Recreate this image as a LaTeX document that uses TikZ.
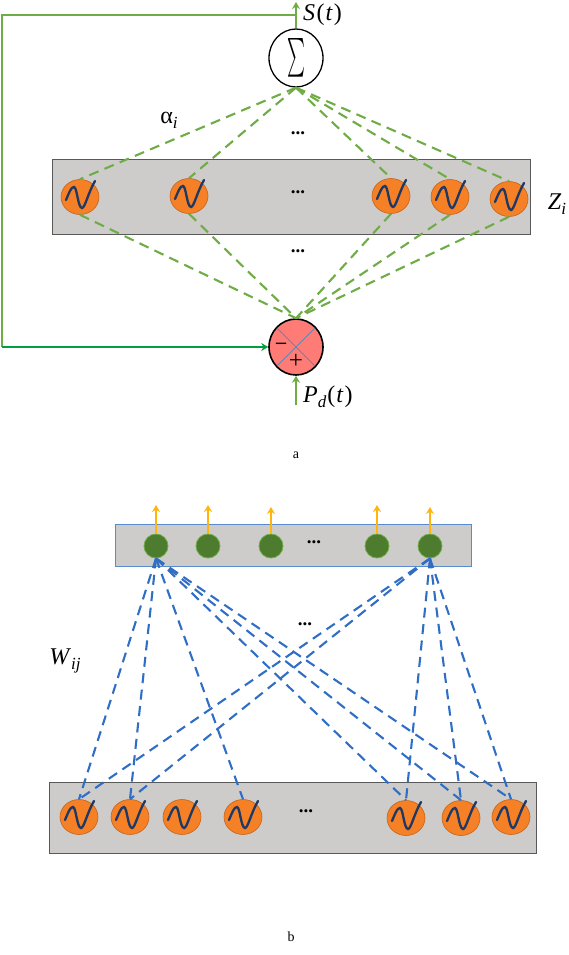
\documentclass[tikz,border=0pt]{standalone}
\usepackage{fontspec}
\usepackage{graphicx}
\setmainfont{Liberation Serif}
\usetikzlibrary{shapes.geometric,arrows.meta}
\definecolor{panel}{HTML}{CDCCCB}
\definecolor{orangeN}{HTML}{F58025}
\definecolor{orangeE}{HTML}{C4651C}
\definecolor{waveC}{HTML}{1F3864}
\definecolor{greenD}{HTML}{6FAC46}
\definecolor{greenF}{HTML}{00A040}
\definecolor{blueD}{HTML}{2F6EC4}
\definecolor{greenN}{HTML}{4E7C2F}
\definecolor{amber}{HTML}{FFB50F}
\definecolor{redN}{HTML}{FF7B75}
\tikzset{
  panelbox/.style={draw=#1,fill=panel,line width=1pt},
  osc/.style={ellipse,draw=orangeE,fill=orangeN,line width=.6pt,inner sep=0pt,minimum width=38pt,minimum height=35pt},
  outn/.style={circle,draw=greenD,fill=greenN,line width=.8pt,inner sep=0pt,minimum size=24pt},
  sumn/.style={ellipse,draw=black,fill=white,line width=1.3pt,inner sep=0pt,minimum width=54pt,minimum height=58pt},
  errn/.style={ellipse,draw=black,fill=redN,line width=1.6pt,inner sep=0pt,minimum width=54pt,minimum height=56pt},
  gdash/.style={draw=greenD,line width=2.1pt,dash pattern=on 10pt off 6.5pt},
  bdash/.style={draw=blueD,line width=2.1pt,dash pattern=on 10pt off 6.5pt},
  gsolid/.style={draw=greenD,line width=2.1pt,-{Stealth[length=7pt,width=8pt]}},
  fback/.style={draw=greenF,line width=1.9pt,-{Stealth[length=7pt,width=8pt]}},
  amb/.style={draw=amber,line width=2.1pt,-{Stealth[length=7pt,width=8pt]}},
  lab/.style={inner sep=0pt,font=\fontsize{24}{26}\selectfont},
  capt/.style={inner sep=0pt,font=\fontsize{14}{16}\selectfont},
  dotsl/.style={inner sep=0pt,font=\bfseries\fontsize{19}{20}\selectfont}
}
\newcommand{\sinewave}[1]{\draw[waveC,line width=2.3pt,line cap=round,shift={(#1.center)}]
  (-14,3) .. controls (-11,-4) and (-9,-10) .. (-6,-10)
  .. controls (-3,-10) and (-2,11) .. (2,11)
  .. controls (5,11) and (8,-4) .. (15,-16);}
\newcommand{\subs}[1]{\raisebox{-5pt}{\fontsize{17}{17}\selectfont\textit{#1}}}
\begin{document}
\begin{tikzpicture}[x=1pt,y=-1pt]
\useasboundingbox (0,0) rectangle (569,955);
% panels
\node[panelbox=black!65,minimum width=478pt,minimum height=75pt,inner sep=0pt] (top) at (291.5,196.5) {};
\node[panelbox=blueD!80,minimum width=356pt,minimum height=42pt,inner sep=0pt] (mid) at (293,545) {};
\node[panelbox=black!65,minimum width=487pt,minimum height=71pt,inner sep=0pt] (bot) at (292.5,817.5) {};
% part a nodes
\node[osc] (a1) at (80,197) {};
\node[osc] (a2) at (189,196) {};
\node[osc] (a3) at (391,196) {};
\node[osc] (a4) at (450,197) {};
\node[osc] (a5) at (509,199) {};
\foreach \n in {a1,a2,a3,a4,a5}{\sinewave{\n}}
\node[sumn] (sum) at (296,58) {\resizebox{18pt}{29pt}{$\sum$}};
\node[errn] (err) at (296,347) {};
\coordinate (errA) at (277,328);
\coordinate (errB) at (315,366);
\coordinate (errC) at (315,328);
\coordinate (errD) at (277,366);
\draw[blueD!75!black!70,line width=.8pt] (errA) -- (errB) (errC) -- (errD);
\node[inner sep=0pt,font=\bfseries\fontsize{20}{20}\selectfont] (minus) at (281,346) {–};
\node[inner sep=0pt,font=\fontsize{25}{25}\selectfont] (plus) at (296,361) {+};
% green dashes
\foreach \n in {a1,a2,a3,a4,a5}{
  \draw[gdash] (sum.south) -- (\n.north);
  \draw[gdash] (\n.south) -- (err.north);
}
% S(t) and feedback
\coordinate (sOut) at (296,2);
\coordinate (fbA) at (296,15);
\coordinate (fbB) at (2,15);
\coordinate (fbC) at (2,347);
\draw[gsolid] (sum.north) -- (sOut);
\draw[greenD,line width=2.1pt,line join=miter] (fbA) -- (fbB) -- (fbC);
\draw[fback] (fbC) -- (err.west);
\coordinate (pIn) at (296,405);
\draw[gsolid] (pIn) -- (err.south);
\node[lab,anchor=west] (st) at (303,15) {\textit{S}\hspace{1.5pt}(\hspace{1pt}\textit{t}\hspace{1pt})};
\node[lab,anchor=west] (pd) at (303,397) {\textit{P}\subs{d}\hspace{1pt}(\hspace{1pt}\textit{t}\hspace{1pt})};
\node[lab] (alpha) at (169,120) {α\subs{i}};
\node[lab] (zi) at (557,204) {\textit{Z}\subs{i}};
\node[dotsl] (d1) at (298,133) {...};
\node[dotsl] (d2) at (298,192) {...};
\node[dotsl] (d3) at (298,251) {...};
\node[capt] (ca) at (296,455) {a};
% part b nodes
\node[outn] (o1) at (156,546) {};
\node[outn] (o2) at (208,546) {};
\node[outn] (o3) at (271,546) {};
\node[outn] (o4) at (377,546) {};
\node[outn] (o5) at (430,546) {};
\coordinate (u1) at (156,505);
\coordinate (u2) at (208,505);
\coordinate (u3) at (271,507);
\coordinate (u4) at (377,505);
\coordinate (u5) at (430,507);
\foreach \i in {1,...,5}{\draw[amb] (o\i.north) -- (u\i);}
\node[osc] (b1) at (79,817) {};
\node[osc] (b2) at (130,817) {};
\node[osc] (b3) at (182,817) {};
\node[osc] (b4) at (243,817) {};
\node[osc] (b5) at (406,818) {};
\node[osc] (b6) at (461,818) {};
\node[osc] (b7) at (511,817) {};
\foreach \n in {b1,b2,b3,b4,b5,b6,b7}{\sinewave{\n}}
\foreach \n in {b1,b2,b4,b5,b6,b7}{\draw[bdash] (o1.south) -- (\n.north);}
\foreach \n in {b1,b2,b5,b6,b7}{\draw[bdash] (o5.south) -- (\n.north);}
\node[dotsl] (d4) at (314,542) {...};
\node[dotsl] (d5) at (305,624) {...};
\node[dotsl] (d6) at (306,811) {...};
\node[lab] (wij) at (65,661) {\textit{W}\subs{ij}};
\node[capt] (cb) at (291,937) {b};
\end{tikzpicture}
\end{document}
